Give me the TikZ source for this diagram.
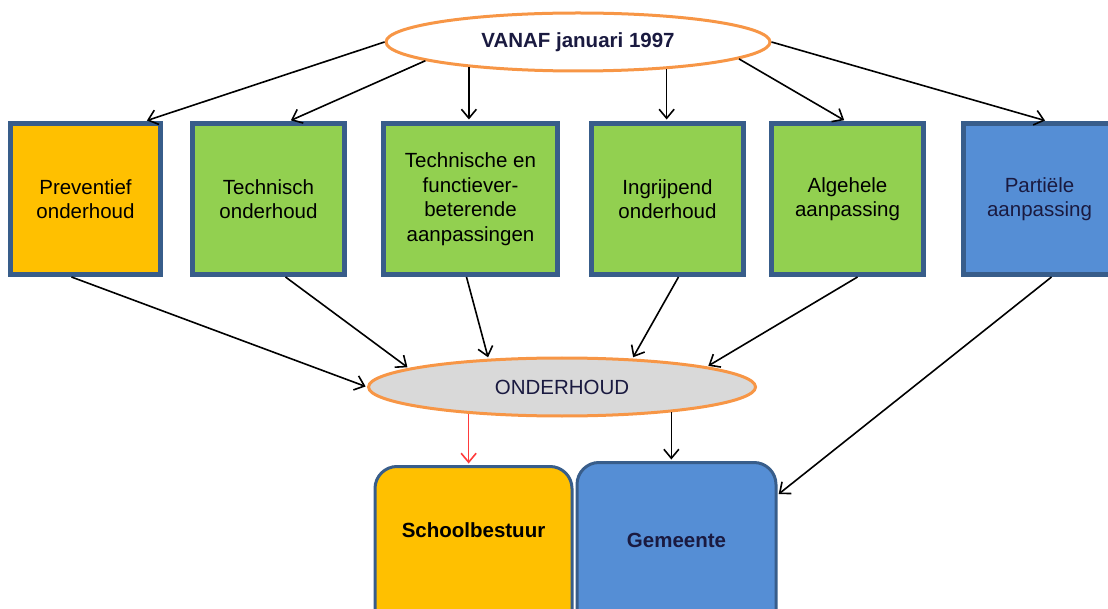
\documentclass[tikz,border=0pt]{standalone}
\usepackage{fontspec}
\setmainfont{Liberation Sans}
\usetikzlibrary{arrows.meta,shapes.geometric,calc}
\definecolor{boxborder}{HTML}{385D8A}
\definecolor{yel}{HTML}{FFC000}
\definecolor{grn}{HTML}{92D050}
\definecolor{blu}{HTML}{558ED5}
\definecolor{org}{HTML}{F79646}
\definecolor{gry}{HTML}{D9D9D9}
\definecolor{navy}{HTML}{1A1A40}
\definecolor{redline}{HTML}{FF3B3B}
\begin{document}
\begin{tikzpicture}[x=1pt,y=-1pt,
  every node/.style={font=\fontsize{20.5}{24.5}\selectfont, inner sep=0pt},
  sq/.style={draw=boxborder, line width=5pt, minimum height=151pt, align=center},
  ell/.style={ellipse, draw=org, line width=3pt, text=navy},
  rbox/.style={draw=boxborder, line width=3pt, rounded corners=22pt, anchor=north, align=center},
  arr/.style={-{Straight Barb[length=9pt,width=15pt]}, line width=1.6pt, black, shorten >=1.5pt},
]
\useasboundingbox (0,0) rectangle (1108,609);
\clip (0,0) rectangle (1108,609);

\node[ell, fill=white, minimum width=384pt, minimum height=58pt] (top) at (578,42) {\textbf{VANAF januari 1997}};

\node[sq, fill=yel, minimum width=150pt] (b1) at (85.5,199) {Preventief\\onderhoud};
\node[sq, fill=grn, minimum width=152pt] (b2) at (268.5,199) {Technisch\\onderhoud};
\node[sq, fill=grn, minimum width=174pt] (b3) at (470.5,199) {Technische en\\functiever-\\beterende\\aanpassingen};
\node[sq, fill=grn, minimum width=152pt] (b4) at (667.5,199) {Ingrijpend\\onderhoud};
\node[sq, fill=grn, minimum width=152pt] (b5) at (847.5,199) {Algehele\\aanpassing};
\node[sq, fill=blu, minimum width=152pt, text=navy] (b6) at (1039.5,199) {Partiële\\aanpassing};

\node[ell, fill=gry, minimum width=387pt, minimum height=58pt] (ond) at (562,387) {ONDERHOUD};

\node[rbox, fill=yel, minimum width=197pt, text height=70.5pt, text depth=200pt] (sb) at (473.5,465) {\textbf{Schoolbestuur}};
\node[rbox, fill=blu, minimum width=199pt, text height=84.5pt, text depth=200pt, text=navy] (gm) at (676.5,461) {\textbf{Gemeente}};

\draw[arr] (top.west) -- ([xshift=60pt]b1.north);
\draw[arr] (top.187) -- ([xshift=21pt]b2.north);
\draw[arr] (top.193) -- (top.193 |- b3.north);
\draw[arr] (top.343) -- (top.343 |- b4.north);
\draw[arr] (top.354) -- ([xshift=-2pt]b5.north);
\draw[arr] (top.east) -- ([xshift=7pt]b6.north);

\draw[arr] ([xshift=-14pt]b1.south) -- (ond.west);
\draw[arr] ([xshift=17pt]b2.south) -- (ond.173);
\draw[arr] ([xshift=-4pt]b3.south) -- (ond.159);
\draw[arr] ([xshift=11pt]b4.south) -- (ond.22);
\draw[arr] ([xshift=10pt]b5.south) -- (ond.8);
\draw[arr] ([xshift=12pt]b6.south) -- ($(gm.north east)+(0,34)$);

\draw[arr, redline] (ond.196) -- (ond.196 |- sb.north);
\draw[arr] (ond.347) -- (ond.347 |- gm.north);
\end{tikzpicture}
\end{document}
